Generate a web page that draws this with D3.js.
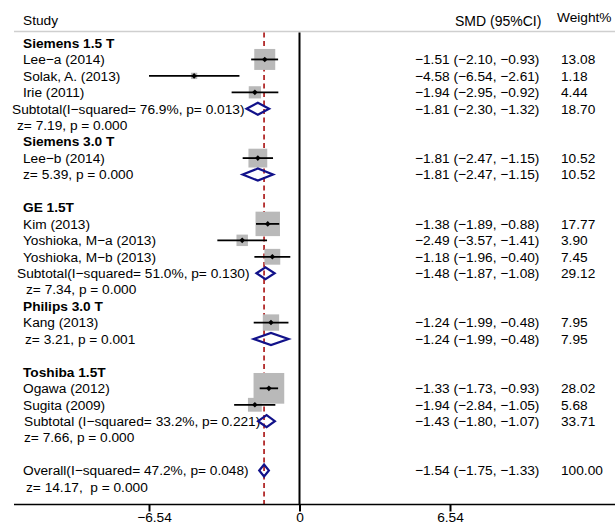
<!DOCTYPE html>
<html>
<head>
<meta charset="utf-8">
<script src="https://cdn.jsdelivr.net/npm/d3@7"></script>
<style>
  html, body { margin: 0; padding: 0; background: #fff; }
  svg { display: block; }
  text { font-family: "Liberation Sans", Arial, Helvetica, sans-serif; fill: #000; }
</style>
</head>
<body>
<svg id="chart" width="615" height="529"></svg>
<script>
// ---------------- data ----------------
const groupNames = ["Siemens 1.5 T", "Siemens 3.0 T", "GE 1.5T", "Philips 3.0 T", "Toshiba 1.5T"];

const studyNames = ["Lee\u2212a (2014)", "Solak, A. (2013)", "Irie (2011)", "Lee\u2212b (2014)",
  "Kim (2013)", "Yoshioka, M\u2212a (2013)", "Yoshioka, M\u2212b (2013)", "Kang (2013)",
  "Ogawa (2012)", "Sugita (2009)"];
const studyGroup  = [0, 0, 0, 1, 2, 2, 2, 3, 4, 4];
const studySMD    = [-1.51, -4.58, -1.94, -1.81, -1.38, -2.49, -1.18, -1.24, -1.33, -1.94];
const studyLower  = [-2.10, -6.54, -2.95, -2.47, -1.89, -3.57, -1.96, -1.99, -1.73, -2.84];
const studyUpper  = [-0.93, -2.61, -0.92, -1.15, -0.88, -1.41, -0.40, -0.48, -0.93, -1.05];
const studyWeight = [13.08, 1.18, 4.44, 10.52, 17.77, 3.90, 7.45, 7.95, 28.02, 5.68];

const subtotalLabels = ["Subtotal(I\u2212squared= 76.9%, p= 0.013)", "",
  "Subtotal(I\u2212squared= 51.0%, p= 0.130)", "", "Subtotal (I\u2212squared= 33.2%, p= 0.221)"];
const subtotalZ = ["z= 7.19, p = 0.000", "z= 5.39, p = 0.000", "z= 7.34, p = 0.000",
  "z= 3.21, p = 0.001", "z= 7.66, p = 0.000"];
const subtotalSMD    = [-1.81, -1.81, -1.48, -1.24, -1.43];
const subtotalLower  = [-2.30, -2.47, -1.87, -1.99, -1.80];
const subtotalUpper  = [-1.32, -1.15, -1.08, -0.48, -1.07];
const subtotalWeight = [18.70, 10.52, 29.12, 7.95, 33.71];

const overallLabel = "Overall(I\u2212squared= 47.2%, p= 0.048)";
const overallZ = "z= 14.17,  p = 0.000";
const overallSMD = -1.54, overallLower = -1.75, overallUpper = -1.33, overallWeight = 100.00;

const headerLabels = ["Study", "SMD (95%CI)", "Weight%"];
const axisTicks = [-6.54, 0, 6.54];

// ---------------- layout ----------------
const gapAfterGroup = [0, 1, 0, 1, 1];
const subtotalIndent = [12, 0, 17, 0, 24];
const zIndent = [17, 23, 26, 25, 24];

const svg = d3.select("#chart");
const FS = 13.7;
const fmt = d3.format(".2f");
const x = d3.scaleLinear().domain([-6.54, 6.54]).range([149, 450]);
const y = d3.scaleLinear().domain([0, 27]).range([43, 487]);
const topY = 31.5, axisY = 504.5;
const valX = 415, wX = 561;
const sq = d3.scaleSqrt().domain([0, 1]).range([0, 5.8]);

// build rows
const rows = [];
let r = 0;
groupNames.forEach((g, gi) => {
  rows.push({type: "group", row: r++, label: g});
  studyNames.forEach((s, si) => {
    if (studyGroup[si] === gi) rows.push({type: "study", row: r++, idx: si});
  });
  if (subtotalLabels[gi]) {
    rows.push({type: "sub", row: r++, gi, label: subtotalLabels[gi], x: subtotalIndent[gi]});
    rows.push({type: "z", row: r++, label: subtotalZ[gi], x: zIndent[gi]});
  } else {
    rows.push({type: "sub", row: r, gi, label: "", x: 0});
    rows.push({type: "z", row: r++, label: subtotalZ[gi], x: zIndent[gi]});
  }
  r += gapAfterGroup[gi];
});
const overallRow = r;

// header
svg.append("text").attr("x", 23).attr("y", 20.7).attr("dy", "0.35em")
  .style("font-size", FS + "px").text(headerLabels[0]);
svg.append("text").attr("x", 455).attr("y", 20.7).attr("dy", "0.35em")
  .style("font-size", (FS + 0.3) + "px").text(headerLabels[1]);
svg.append("text").attr("x", 557).attr("y", 17.5).attr("dy", "0.35em")
  .style("font-size", FS + "px").text(headerLabels[2]);
svg.append("line").attr("x1", 14).attr("x2", 615).attr("y1", topY).attr("y2", topY)
  .attr("stroke", "#cfcfcf").attr("stroke-width", 1.6);

// overall dashed line
svg.append("line").attr("x1", x(overallSMD)).attr("x2", x(overallSMD))
  .attr("y1", topY + 1).attr("y2", axisY)
  .attr("stroke", "#b22a2a").attr("stroke-width", 1.8).attr("stroke-dasharray", "5,3.5");

// zero line
svg.append("line").attr("x1", x(0)).attr("x2", x(0)).attr("y1", topY + 1).attr("y2", axisY)
  .attr("stroke", "#000").attr("stroke-width", 2);

// study markers
const studies = rows.filter(d => d.type === "study");
svg.append("g").selectAll("rect").data(studies).join("rect")
  .attr("x", d => x(studySMD[d.idx]) - sq(studyWeight[d.idx]) / 2)
  .attr("y", d => y(d.row) - sq(studyWeight[d.idx]) / 2)
  .attr("width", d => sq(studyWeight[d.idx]))
  .attr("height", d => sq(studyWeight[d.idx]))
  .attr("fill", "#b9b9b9");
svg.append("g").selectAll("line").data(studies).join("line")
  .attr("x1", d => x(studyLower[d.idx])).attr("x2", d => x(studyUpper[d.idx]))
  .attr("y1", d => y(d.row)).attr("y2", d => y(d.row))
  .attr("stroke", "#000").attr("stroke-width", 1.8);
svg.append("g").selectAll("path").data(studies).join("path")
  .attr("d", d => {
    const cx = x(studySMD[d.idx]), cy = y(d.row), s = 2.8;
    return `M${cx - s},${cy}L${cx},${cy - s}L${cx + s},${cy}L${cx},${cy + s}Z`;
  })
  .attr("fill", "#000");

// text: groups and studies
svg.append("g").selectAll("text").data(rows.filter(d => d.type === "group")).join("text")
  .attr("x", 23).attr("y", d => y(d.row)).attr("dy", "0.35em")
  .style("font-size", FS + "px").style("font-weight", "bold").text(d => d.label);
svg.append("g").selectAll("text").data(studies).join("text")
  .attr("x", 23).attr("y", d => y(d.row)).attr("dy", "0.35em")
  .style("font-size", FS + "px").text(d => studyNames[d.idx]);
svg.append("g").selectAll("text").data(studies).join("text")
  .attr("x", valX).attr("y", d => y(d.row)).attr("dy", "0.35em")
  .style("font-size", FS + "px")
  .text(d => `${fmt(studySMD[d.idx])} (${fmt(studyLower[d.idx])}, ${fmt(studyUpper[d.idx])})`);
svg.append("g").selectAll("text").data(studies).join("text")
  .attr("x", wX).attr("y", d => y(d.row)).attr("dy", "0.35em")
  .style("font-size", FS + "px").text(d => fmt(studyWeight[d.idx]));

// subtotal and z rows
const subs = rows.filter(d => d.type === "sub");
svg.append("g").selectAll("text").data(subs.filter(d => d.label)).join("text")
  .attr("x", d => d.x).attr("y", d => y(d.row)).attr("dy", "0.35em")
  .style("font-size", FS + "px").text(d => d.label);
svg.append("g").selectAll("text").data(rows.filter(d => d.type === "z")).join("text")
  .attr("x", d => d.x).attr("y", d => y(d.row)).attr("dy", "0.35em")
  .style("font-size", FS + "px").style("white-space", "pre").text(d => d.label);

const diamonds = subs.map(d => ({row: d.row, es: subtotalSMD[d.gi], lo: subtotalLower[d.gi],
  hi: subtotalUpper[d.gi], w: subtotalWeight[d.gi]}));
diamonds.push({row: overallRow, es: overallSMD, lo: overallLower, hi: overallUpper, w: overallWeight});

svg.append("g").selectAll("path").data(diamonds).join("path")
  .attr("d", d => {
    const cy = y(d.row), h = 6;
    return `M${x(d.lo)},${cy}L${x(d.es)},${cy - h}L${x(d.hi)},${cy}L${x(d.es)},${cy + h}Z`;
  })
  .attr("fill", "none").attr("stroke", "#12128a").attr("stroke-width", 2.2);
svg.append("g").selectAll("text").data(diamonds).join("text")
  .attr("x", valX).attr("y", d => y(d.row)).attr("dy", "0.35em")
  .style("font-size", FS + "px")
  .text(d => `${fmt(d.es)} (${fmt(d.lo)}, ${fmt(d.hi)})`);
svg.append("g").selectAll("text").data(diamonds).join("text")
  .attr("x", wX).attr("y", d => y(d.row)).attr("dy", "0.35em")
  .style("font-size", FS + "px").text(d => fmt(d.w));

// overall labels
svg.append("text").attr("x", 23).attr("y", y(overallRow)).attr("dy", "0.35em")
  .style("font-size", FS + "px").text(overallLabel);
svg.append("text").attr("x", 26).attr("y", y(overallRow + 1)).attr("dy", "0.35em")
  .style("font-size", FS + "px").style("white-space", "pre").text(overallZ);

// axis
const axis = d3.axisBottom(x).tickValues(axisTicks).tickSize(7).tickPadding(1)
  .tickFormat(d => d === 0 ? "0" : fmt(d));
const ag = svg.append("g").attr("transform", `translate(0,${axisY})`).call(axis);
ag.select(".domain").remove();
ag.append("line").attr("x1", 14).attr("x2", 615).attr("y1", 0).attr("y2", 0)
  .attr("stroke", "#000").attr("stroke-width", 1.6);
ag.selectAll(".tick line").attr("stroke", "#000").attr("stroke-width", 2);
ag.selectAll(".tick text").style("font-size", FS + "px")
  .style("font-family", '"Liberation Sans", Arial, sans-serif').attr("fill", "#000")
  .attr("dx", d => d < 0 ? 5 : 0);
</script>
</body>
</html>
